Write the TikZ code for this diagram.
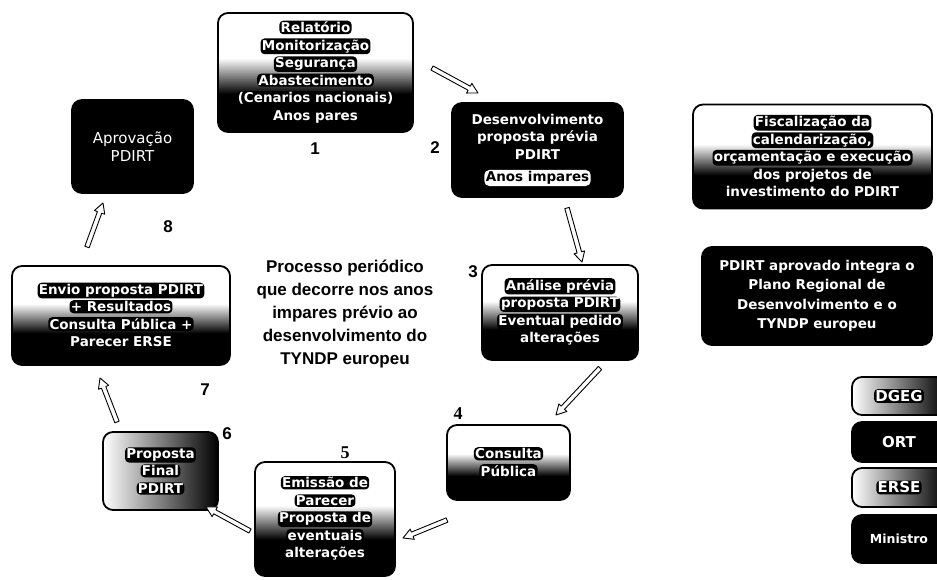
\documentclass[tikz,border=0pt]{standalone}
\usepackage{fontspec}
\setmainfont{Liberation Sans}
\newfontfamily\dvs{DejaVu Sans}
\newfontfamily\tms{Liberation Serif}
\usetikzlibrary{calc}
\pgfdeclareverticalshading{wtb}{100bp}{color(0bp)=(black); color(25bp)=(black); color(41bp)=(black);
  color(56bp)=(white); color(75bp)=(white); color(100bp)=(white)}
\newcommand\cl[1]{\tikz[baseline=(pill.base)]\node[draw=none, fill=black, rounded corners=4pt,
  inner sep=1.3pt, minimum width=0pt, minimum height=0pt, text=white, align=center] (pill) {#1};}
\newcommand\wl[1]{\tikz[baseline=(wpill.base)]\node[draw=none, fill=white, rounded corners=5pt,
  inner sep=1.5pt, minimum width=0pt, minimum height=0pt, text=black, align=center] (wpill) {#1};}
\newcommand\hollowarrow[2]{%
  \coordinate (hA) at (#1);
  \coordinate (hB) at (#2);
  \coordinate (hC) at ($(hB)!10pt!(hA)$);
  \draw[harrow] ($(hA)!2.3pt!90:(hB)$) -- ($(hC)!2.3pt!90:(hB)$) -- ($(hC)!5.5pt!90:(hB)$) -- (hB)
     -- ($(hC)!5.5pt!-90:(hB)$) -- ($(hC)!2.3pt!-90:(hB)$) -- ($(hA)!2.3pt!-90:(hB)$) -- cycle;}
\tikzset{
  box/.style={draw=black, line width=1.8pt, rounded corners=10pt, text=white, align=center,
    font=\dvs\bfseries\fontsize{13.5}{17.5}\selectfont, inner sep=2pt},
  darkbox/.style={box, fill=black},
  gradbox/.style={box, shading=wtb},
  sidebox/.style={box, left color=white, right color=black},
  harrow/.style={draw=black, line width=0.9pt, fill=white, line join=round},
  num/.style={font=\bfseries\fontsize{17}{17}\selectfont, inner sep=0pt},
  numserif/.style={font=\tms\bfseries\fontsize{18}{18}\selectfont, inner sep=0pt},
  centertext/.style={align=center, font=\bfseries\fontsize{17}{23}\selectfont, inner sep=0pt}
}
\begin{document}
\begin{tikzpicture}[x=1pt,y=-1pt]
\useasboundingbox[fill=white] (0,0) rectangle (937,580);

% process boxes
\node[gradbox, minimum width=195pt, minimum height=119pt] (b1) at (315.5,72.5)
  {\cl{Relatório}\\\cl{Monitorização}\\\cl{Segurança}\\\cl{Abastecimento}\\\cl{(Cenarios nacionais)}\\\cl{Anos pares}};
\node[darkbox, minimum width=171pt, minimum height=94pt] (b2) at (537.5,150)
  {Desenvolvimento\\proposta prévia\\PDIRT\\[5pt]\wl{Anos impares}};
\node[gradbox, minimum width=156pt, minimum height=95pt] (b3) at (560,312.5)
  {\cl{Análise prévia}\\\cl{proposta PDIRT}\\\cl{Eventual pedido}\\\cl{alterações}};
\node[gradbox, minimum width=123pt, minimum height=75pt] (b4) at (508.5,462.5)
  {\cl{Consulta}\\\cl{Pública}};
\node[gradbox, minimum width=140pt, minimum height=114pt] (b5) at (325,519)
  {\cl{Emissão de}\\\cl{Parecer}\\\cl{Proposta de}\\\cl{eventuais}\\\cl{alterações}};
\node[sidebox, minimum width=115pt, minimum height=78pt] (b6) at (160.5,471)
  {\cl{Proposta}\\\cl{Final}\\\cl{PDIRT}};
\node[gradbox, minimum width=218pt, minimum height=99pt] (b7) at (121,315.5)
  {\cl{Envio proposta PDIRT}\\\cl{+ Resultados}\\\cl{Consulta Pública +}\\\cl{Parecer ERSE}};
\node[darkbox, minimum width=121pt, minimum height=93pt, font=\dvs\fontsize{15}{18}\selectfont] (b8) at (132.5,146.5)
  {Aprovação\\PDIRT};

% side boxes
\node[gradbox, minimum width=239pt, minimum height=104pt] (bF) at (812.5,156.5)
  {\cl{Fiscalização da}\\\cl{calendarização,}\\\cl{orçamentação e execução}\\\cl{dos projetos de}\\\cl{investimento do PDIRT}};
\node[darkbox, minimum width=230pt, minimum height=98pt, font=\dvs\bfseries\fontsize{13.5}{19.5}\selectfont] (bP) at (817,296)
  {PDIRT aprovado integra o\\Plano Regional de\\Desenvolvimento e o\\TYNDP europeu};

% legend
\node[sidebox, minimum width=94pt, minimum height=38pt, font=\dvs\bfseries\fontsize{15}{17}\selectfont] (lg1) at (899,396) {\cl{DGEG}};
\node[darkbox, minimum width=94pt, minimum height=40pt, font=\dvs\bfseries\fontsize{15}{17}\selectfont] (lg2) at (899,442) {ORT};
\node[sidebox, minimum width=94pt, minimum height=39pt, font=\dvs\bfseries\fontsize{15}{17}\selectfont] (lg3) at (899,487.5) {\cl{ERSE}};
\node[darkbox, minimum width=94pt, minimum height=48pt, font=\dvs\bfseries\fontsize{12.5}{15}\selectfont] (lg4) at (899,539) {Ministro};

% center text
\node[centertext] (ct) at (345,314)
  {Processo periódico\\que decorre nos anos\\impares prévio ao\\desenvolvimento do\\TYNDP europeu};

% numbers
\node[num] (n1) at (315,149) {1};
\node[num] (n2) at (435,148) {2};
\node[num] (n3) at (473,272) {3};
\node[numserif] (n4) at (458,414) {4};
\node[numserif] (n5) at (345,453) {5};
\node[num] (n6) at (227,434) {6};
\node[num] (n7) at (205,390) {7};
\node[num] (n8) at (168,227) {8};

% arrow end points
\coordinate (a1s) at (432,68);  \coordinate (a1e) at (478,93);
\coordinate (a2s) at (567,208); \coordinate (a2e) at (582,262);
\coordinate (a3s) at (600,368); \coordinate (a3e) at (556,415);
\coordinate (a4s) at (447,520); \coordinate (a4e) at (403,538);
\coordinate (a5s) at (250,531); \coordinate (a5e) at (206,507);
\coordinate (a6s) at (117,422); \coordinate (a6e) at (100,378);
\coordinate (a7s) at (87,247);  \coordinate (a7e) at (103,203);

\hollowarrow{a1s}{a1e}
\hollowarrow{a2s}{a2e}
\hollowarrow{a3s}{a3e}
\hollowarrow{a4s}{a4e}
\hollowarrow{a5s}{a5e}
\hollowarrow{a6s}{a6e}
\hollowarrow{a7s}{a7e}
\end{tikzpicture}
\end{document}
